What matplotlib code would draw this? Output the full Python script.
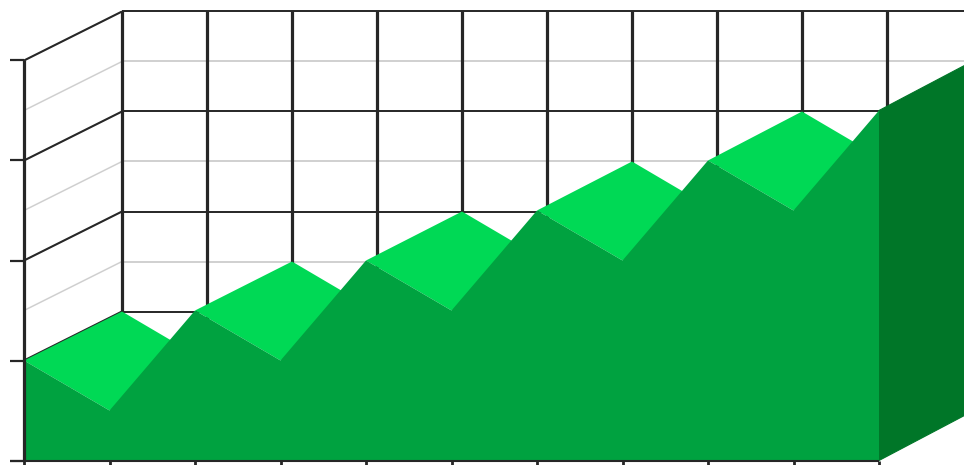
import matplotlib
matplotlib.use("Agg")
import matplotlib.pyplot as plt
from matplotlib.patches import Polygon
from matplotlib.transforms import Affine2D

categories = list(range(11))
values = [20, 10, 30, 20, 40, 30, 50, 40, 60, 50, 70]
major_ticks = [0, 20, 40, 60, 80]
minor_ticks = [10, 30, 50, 70]

LIGHT, FRONT, SIDE = "#00D955", "#00A240", "#007628"
DARK, GREY = "#262626", "#D0D0D0"

fig = plt.figure(figsize=(9.64, 4.65), dpi=100)
ax = fig.add_axes([0, 0, 1, 1])
ax.set_xlim(0, 964)
ax.set_ylim(465, 0)
ax.axis("off")

# Oblique projection: front plane and back plane, category/value -> pixels
front = Affine2D.from_values(85.5, 0, 0, -5.0, 24, 460.5)
back = Affine2D.from_values(85.0, 0, 0, -5.0, 122, 411.5)


def F(c, v):
    return tuple(front.transform((c, v)))


def B(c, v):
    return tuple(back.transform((c, v)))


def line(p, q, color, lw, z):
    ax.plot([p[0], q[0]], [p[1], q[1]], color=color, lw=lw, zorder=z,
            solid_capstyle="butt", clip_on=True)


last = categories[-1]
top_axis = 80

# minor (light) grid on back and left walls
for v in minor_ticks:
    line(F(0, v), B(0, v), GREY, 1.1, 1)
    line(B(0, v), (964, B(0, v)[1]), GREY, 1.4, 1)

# major grid on back and left walls
for v in major_ticks[1:]:
    line(F(0, v), B(0, v), DARK, 1.5, 2)
    line(B(0, v), (964, B(0, v)[1]), DARK, 1.4, 2)

# vertical grid on the back wall
for c in categories[:-1]:
    line(B(c, top_axis), B(c, 0), DARK, 2.3, 2.5)

# top faces of the falling segments (the rising ones face away)
for i in range(len(values) - 1):
    if values[i + 1] < values[i]:
        ax.add_patch(Polygon([F(i, values[i]), F(i + 1, values[i + 1]),
                              B(i + 1, values[i + 1]), B(i, values[i])],
                             closed=True, fc=LIGHT, ec="none", zorder=3))

# side face
ax.add_patch(Polygon([F(last, values[-1]), B(last, values[-1]),
                      B(last, 0), F(last, 0)],
                     closed=True, fc=SIDE, ec=SIDE, lw=0.8, zorder=4))

# front face
outline = [F(0, 0)] + [F(c, v) for c, v in zip(categories, values)] + [F(last, 0)]
ax.add_patch(Polygon(outline, closed=True, fc=FRONT, ec="none", zorder=5))

# axes and ticks
line(F(0, 0), F(0, top_axis), DARK, 2.3, 6)
line((10, F(0, 0)[1]), F(last, 0), DARK, 1.5, 6)
for v in major_ticks:
    line((10, F(0, v)[1]), F(0, v), DARK, 1.6, 6)
for c in categories:
    p = F(c, 0)
    line(p, (p[0], 465), DARK, 2.0, 6)

fig.savefig("out.png", dpi=100, facecolor="white")
